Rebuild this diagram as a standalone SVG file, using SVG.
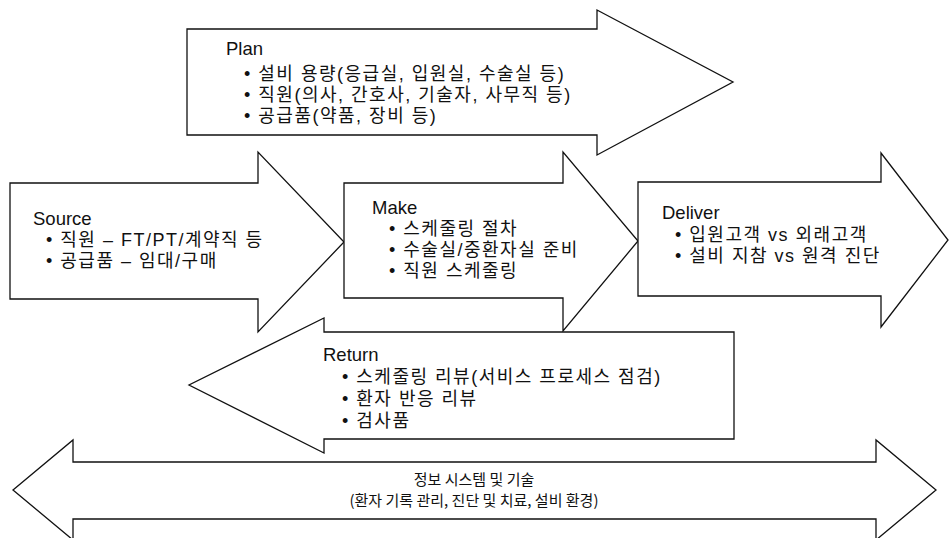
<svg xmlns="http://www.w3.org/2000/svg" width="949" height="538" viewBox="0 0 949 538">
<style>
.shape{fill:#fff;stroke:#111;stroke-width:1.3;stroke-linejoin:miter}
.h{font-family:"Liberation Sans","Noto Sans CJK KR",sans-serif;font-size:18.5px;fill:#111}
.k{font-family:"Liberation Sans","Noto Sans CJK KR",sans-serif;font-size:18px;fill:#111;letter-spacing:1.5px}
.c{font-family:"Noto Sans CJK KR",sans-serif;font-size:15px;fill:#111;text-anchor:middle}
</style>
<rect width="949" height="538" fill="#fff"/>
<g id="plan">
<path class="shape" d="M187,29 H597 V10 L733,82 L597,155 V135 H187 Z"/>
<text class="h" x="226" y="55">Plan</text>
<text class="k" x="244" y="80">• 설비 용량(응급실, 입원실, 수술실 등)</text>
<text class="k" x="244" y="101">• 직원(의사, 간호사, 기술자, 사무직 등)</text>
<text class="k" x="244" y="122">• 공급품(약품, 장비 등)</text>
</g>
<g id="source">
<path class="shape" d="M10,183 H258 V152 L344,242 L258,332 V299 H10 Z"/>
<text class="h" x="33" y="225">Source</text>
<text class="k" x="46" y="246">• 직원 – FT/PT/계약직 등</text>
<text class="k" x="46" y="267">• 공급품 – 임대/구매</text>
</g>
<g id="make">
<path class="shape" d="M344,183 H563 V152 L638,241 L563,331 V298 H344 Z"/>
<text class="h" x="372" y="214">Make</text>
<text class="k" x="389" y="235">• 스케줄링 절차</text>
<text class="k" x="389" y="256">• 수술실/중환자실 준비</text>
<text class="k" x="389" y="277">• 직원 스케줄링</text>
</g>
<g id="deliver">
<path class="shape" d="M638,182 H881 V153 L948,240 L881,327 V296 H638 Z"/>
<text class="h" x="662" y="219">Deliver</text>
<text class="k" x="675" y="241">• 입원고객 vs 외래고객</text>
<text class="k" x="675" y="262">• 설비 지참 vs 원격 진단</text>
</g>
<g id="return">
<path class="shape" d="M734,332 H324 V318 L189,385 L324,453 V439 H734 Z"/>
<text class="h" x="323" y="361">Return</text>
<text class="k" x="342" y="383">• 스케줄링 리뷰(서비스 프로세스 점검)</text>
<text class="k" x="342" y="405">• 환자 반응 리뷰</text>
<text class="k" x="342" y="427">• 검사품</text>
</g>
<g id="infosys">
<path class="shape" d="M73,462 H876 V440 L936,490 L876,540 V519 H73 V540 L13,490 L73,440 Z"/>
<text class="c" x="474" y="485">정보 시스템 및 기술</text>
<text class="c" x="474" y="506">(환자 기록 관리, 진단 및 치료, 설비 환경)</text>
</g>
</svg>
